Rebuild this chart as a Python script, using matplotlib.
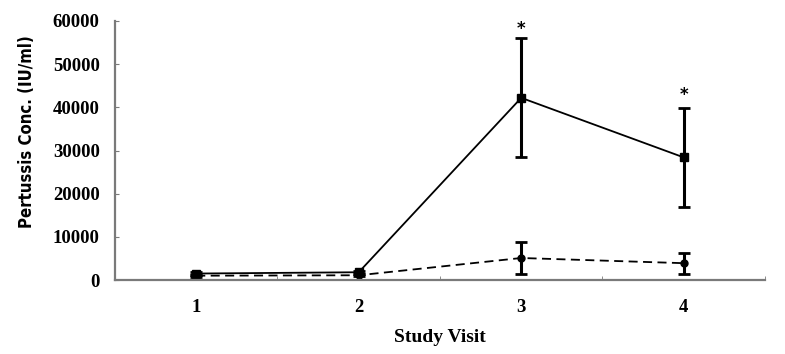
import matplotlib.pyplot as plt

visits = [1, 2, 3, 4]

# group with the solid line
solid_mean = [1500, 1800, 42200, 28400]
solid_err = [300, 300, 13800, 11500]

# group with the dashed line
dashed_mean = [1000, 1100, 5100, 3900]
dashed_err = [200, 200, 3600, 2400]

# significance marks (visit, height)
star_visits = [3, 4]
star_heights = [58200, 42800]

fig = plt.figure(figsize=(7.85, 3.54), dpi=100)
ax = fig.add_axes([0.1465, 0.209, 0.828, 0.7317])

ax.errorbar(visits, solid_mean, yerr=solid_err, color="black", linestyle="-",
            linewidth=1.3, marker="s", markersize=6, elinewidth=2.2,
            capsize=4, capthick=2)
ax.errorbar(visits, dashed_mean, yerr=dashed_err, color="black", linestyle="--",
            dashes=(5, 3), linewidth=1.3, marker="o", markersize=5,
            elinewidth=2.2, capsize=4, capthick=2)

for v, h in zip(star_visits, star_heights):
    ax.text(v, h, "*", ha="center", va="center", fontsize=12,
            fontweight="bold", color="black")

ax.set_xlim(0.5, 4.5)
ax.set_ylim(0, 60000)
ax.set_yticks(range(0, 60001, 10000))
ax.set_xticks(visits)
ax.set_xticks([1.5, 2.5, 3.5, 4.5], minor=True)

for side in ["top", "right"]:
    ax.spines[side].set_visible(False)
for side in ["left", "bottom"]:
    ax.spines[side].set_color("#7a7a7a")
    ax.spines[side].set_linewidth(1.6)

ax.tick_params(axis="y", direction="in", length=3, color="#7a7a7a", pad=11)
ax.tick_params(axis="x", which="major", length=0, pad=14)
ax.tick_params(axis="x", which="minor", direction="in", length=3,
               color="#7a7a7a")

for lab in ax.get_xticklabels() + ax.get_yticklabels():
    lab.set_fontfamily("Liberation Serif")
    lab.set_fontweight("bold")
    lab.set_fontsize(13.5)

ax.set_xlabel("Study Visit", fontfamily="Liberation Serif", fontweight="bold",
              fontsize=14, labelpad=9)
fig.text(0.034, 0.627, "Pertussis Conc. (IU/ml)", rotation=90, ha="center",
         va="center", fontfamily="DejaVu Sans", fontstretch="condensed",
         fontweight="bold", fontsize=12)

fig.savefig("out.png", dpi=100)
